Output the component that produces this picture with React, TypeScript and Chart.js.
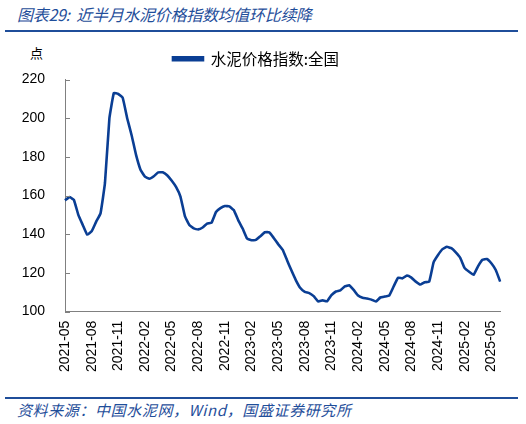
import { useEffect, useRef } from "react"
import { Chart, registerables } from "chart.js"

Chart.register(...registerables)

// semi-monthly readings, 2021-05 (1st half) to 2025-06 (1st half)
const indexValues = [
  157.5, 159.2, 157.8, 150, 144.8, 139.8, 141.5, 146.4, 150.8, 166.5,
  200, 213, 212.5, 210.5, 200, 191.2, 181, 173.4, 169.8, 168.7,
  170, 172, 172, 170.5, 167.8, 164.5, 159.5, 149.4, 144.8, 143,
  142.5, 143.5, 145.5, 146, 151.5, 153.5, 154.6, 154.4, 152.5, 147.3,
  143, 137.8, 136.9, 137.1, 139, 141, 141, 138.1, 134.9, 132,
  126.6, 121.2, 116.2, 112.2, 110.2, 109.6, 108, 105.3, 105.8, 105.3,
  108.5, 110.4, 111, 113, 113.6, 111.2, 108.3, 107.2, 106.8, 106.2,
  105.2, 107.3, 107.8, 108.3, 113, 117.5, 117.2, 118.7, 117.6, 115.5,
  114, 115.2, 115.4, 125.5, 129.3, 132.3, 133.5, 132.8, 130.6, 127.8,
  122.5, 120.6, 119, 123.4, 126.8, 127.2, 125, 121.5, 115.5,
]

const tickMonths = [
  "2021-05", "2021-08", "2021-11", "2022-02", "2022-05", "2022-08",
  "2022-11", "2023-02", "2023-05", "2023-08", "2023-11", "2024-02",
  "2024-05", "2024-08", "2024-11", "2025-02", "2025-05",
]

const yTicks = [100, 120, 140, 160, 180, 200, 220]

const seriesName = "水泥价格指数:全国"

// one category per half month
const categories: string[] = []
for (let i = 0; i < indexValues.length; i++) {
  const m = 4 + Math.floor(i / 2)
  const y = 2021 + Math.floor(m / 12)
  const mm = String((m % 12) + 1).padStart(2, "0")
  categories.push(`${y}-${mm}-${i % 2 === 0 ? "01" : "16"}`)
}

const BLUE = "#1F4E9A"
const LINE = "#0A3E94"

// short inward tick marks on the y axis
const innerTicks = {
  id: "innerTicks",
  afterDraw(chart: Chart) {
    const y = chart.scales.y
    const ctx = chart.ctx
    ctx.save()
    ctx.strokeStyle = "#808080"
    ctx.lineWidth = 1
    yTicks.forEach((v) => {
      const py = Math.round(y.getPixelForValue(v)) + 0.5
      ctx.beginPath()
      ctx.moveTo(chart.chartArea.left, py)
      ctx.lineTo(chart.chartArea.left + 5, py)
      ctx.stroke()
    })
    ctx.restore()
  },
}

// a little extra room under the legend
const legendGap = {
  id: "legendGap",
  beforeInit(chart: any) {
    const legend = chart.legend
    if (!legend) return
    const fit = legend.fit
    legend.fit = function () {
      fit.call(this)
      this.height += 3
    }
  },
}

export default function App() {
  const chartRef = useRef<HTMLCanvasElement>(null)
  const chartInstance = useRef<Chart | null>(null)

  useEffect(() => {
    if (!chartRef.current) return
    if (chartInstance.current) chartInstance.current.destroy()
    const ctx = chartRef.current.getContext("2d")
    if (!ctx) return

    chartInstance.current = new Chart(ctx, {
      type: "line",
      data: {
        labels: categories,
        datasets: [
          {
            label: seriesName,
            data: indexValues,
            borderColor: LINE,
            backgroundColor: LINE,
            borderWidth: 2.6,
            pointRadius: 0,
            tension: 0.1,
          },
        ],
      },
      options: {
        animation: false,
        responsive: true,
        maintainAspectRatio: false,
        layout: { padding: { left: 8, right: 22, top: 2, bottom: 4 } },
        plugins: {
          legend: {
            position: "top",
            labels: {
              boxWidth: 30,
              boxHeight: 3,
              color: "#000",
              padding: 9,
              font: { family: "'Noto Sans CJK SC', sans-serif", size: 15.5 },
            },
          },
          tooltip: { enabled: false },
        },
        scales: {
          x: {
            offset: false,
            grid: { display: false, drawTicks: false },
            border: { color: "#808080", width: 1 },
            ticks: {
              autoSkip: false,
              minRotation: 90,
              maxRotation: 90,
              padding: 9,
              color: "#000",
              font: { family: "'Liberation Sans', Arial, sans-serif", size: 14 },
              callback: (_v, i) => {
                const lab = categories[i]
                const ym = lab.slice(0, 7)
                return lab.endsWith("-01") && tickMonths.includes(ym) ? ym : ""
              },
            },
          },
          y: {
            min: 100,
            max: 220,
            grid: { display: false, drawTicks: false },
            border: { color: "#808080", width: 1 },
            afterBuildTicks: (axis) => {
              axis.ticks = yTicks.map((v) => ({ value: v }))
            },
            afterFit: (axis) => {
              axis.width = 57
            },
            ticks: {
              padding: 20,
              color: "#000",
              font: { family: "'Liberation Sans', Arial, sans-serif", size: 14 },
            },
          },
        },
      },
      plugins: [innerTicks, legendGap],
    })

    return () => {
      if (chartInstance.current) {
        chartInstance.current.destroy()
        chartInstance.current = null
      }
    }
  }, [])

  const italic = {
    fontStyle: "italic" as const,
    color: BLUE,
    fontFamily: "'Noto Sans CJK SC', sans-serif",
  }

  return (
    <div style={{ position: "absolute", left: 0, top: 0, width: 526, height: 424, background: "#fff" }}>
      <div style={{ ...italic, position: "absolute", left: 17, top: 4, fontSize: 16, letterSpacing: -0.3, lineHeight: "20px", whiteSpace: "nowrap" }}>
        图表29:&nbsp;&nbsp;近半月水泥价格指数均值环比续降
      </div>
      <div style={{ position: "absolute", left: 5, top: 30, width: 513, height: 2, background: BLUE }} />
      <div
        style={{
          position: "absolute",
          left: 30,
          top: 43,
          fontSize: 13,
          fontFamily: "'Noto Sans CJK SC', sans-serif",
          color: "#000",
        }}
      >
        点
      </div>
      <div style={{ position: "absolute", left: 0, top: 40, width: 526, height: 345 }}>
        <canvas ref={chartRef}></canvas>
      </div>
      <div style={{ position: "absolute", left: 5, top: 397, width: 513, height: 2, background: BLUE }} />
      <div style={{ ...italic, position: "absolute", left: 17, top: 400, fontSize: 15, letterSpacing: 0.6, lineHeight: "20px", whiteSpace: "nowrap" }}>
        资料来源：中国水泥网，Wind，国盛证券研究所
      </div>
    </div>
  )
}
